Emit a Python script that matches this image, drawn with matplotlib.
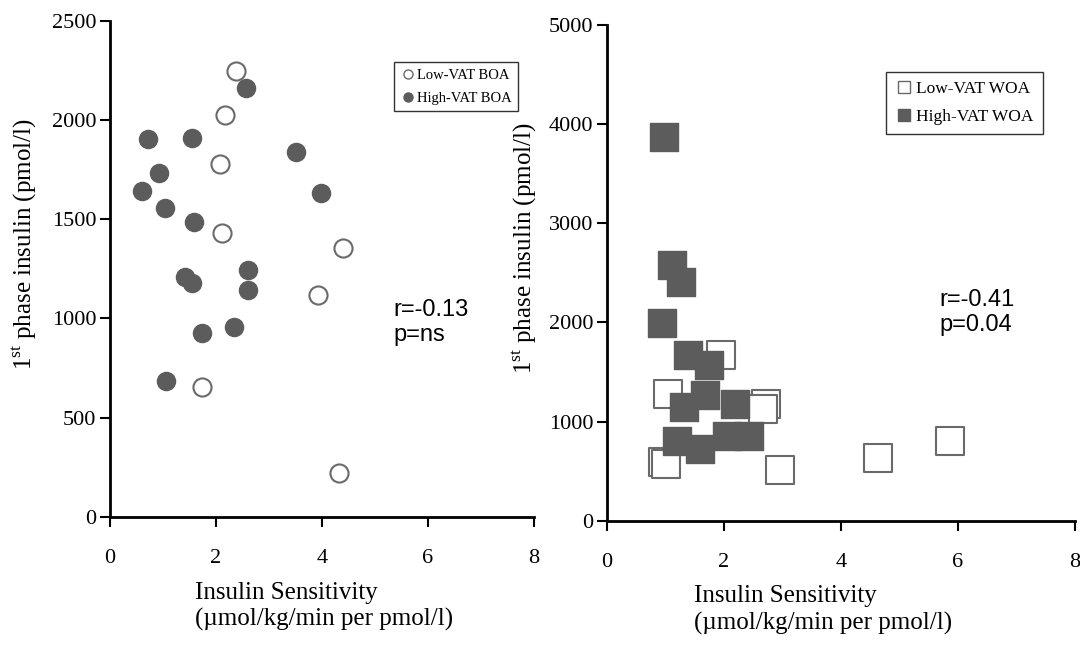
import matplotlib
matplotlib.use("Agg")
import matplotlib.pyplot as plt
from matplotlib.lines import Line2D

plt.rcParams["mathtext.fontset"] = "custom"
plt.rcParams["mathtext.rm"] = "Liberation Serif"

# %% data
# left panel: BOA
low_boa_x = [2.38, 2.17, 2.07, 2.11, 4.40, 3.93, 1.74, 4.33]
low_boa_y = [2247, 2026, 1780, 1433, 1357, 1119, 653, 224]
high_boa_x = [2.57, 0.71, 1.55, 3.50, 0.92, 0.60, 3.98, 1.04, 1.58,
              1.42, 1.54, 2.60, 2.60, 2.34, 1.74, 1.05]
high_boa_y = [2162, 1904, 1909, 1840, 1734, 1644, 1633, 1555, 1485,
              1209, 1177, 1243, 1141, 955, 927, 683]

# right panel: WOA
low_woa_x = [1.95, 1.05, 2.72, 2.66, 0.96, 1.01, 2.96, 4.64, 5.87]
low_woa_y = [1667, 1283, 1178, 1126, 595, 567, 508, 630, 801]
high_woa_x = [0.97, 1.11, 1.27, 0.94, 1.39, 1.75, 1.68, 1.31, 2.19,
              1.20, 1.59, 2.05, 2.42]
high_woa_y = [3866, 2581, 2406, 1995, 1667, 1569, 1265, 1150, 1178,
              804, 725, 857, 857]

x_ticks = [0, 2, 4, 6, 8]
left_y_ticks = [0, 500, 1000, 1500, 2000, 2500]
right_y_ticks = [0, 1000, 2000, 3000, 4000, 5000]

serif = "Liberation Serif"
sans = "Liberation Sans"
fill_col = "#5c5c5c"
edge_col = "#6a6a6a"
xlab = "Insulin Sensitivity\n(\u00b5mol/kg/min per pmol/l)"
ylab = "1$^{\\mathrm{st}}$ phase insulin (pmol/l)"

fig = plt.figure(figsize=(10.8, 6.45), dpi=100)
ax1 = fig.add_axes([110/1080, 1-517/645, 424/1080, 496.3/645])
ax2 = fig.add_axes([607/1080, 1-520.7/645, 468/1080, 495.7/645])


def style(ax, yticks):
    for s in ["top", "right"]:
        ax.spines[s].set_visible(False)
    for s in ["left", "bottom"]:
        ax.spines[s].set_linewidth(2.0)
    ax.set_xlim(0, 8)
    ax.set_ylim(0, yticks[-1])
    ax.set_xticks(x_ticks)
    ax.set_yticks(yticks)
    ax.tick_params(axis="x", direction="out", length=7, width=1.5, pad=16,
                   labelsize=16)
    ax.tick_params(axis="y", direction="out", length=7, width=1.5, pad=3,
                   labelsize=16)
    for lab in ax.get_xticklabels() + ax.get_yticklabels():
        lab.set_fontfamily(serif)
    ax.set_ylabel(ylab, fontsize=18, fontfamily=serif)


# %% left panel
ax1.scatter(low_boa_x, low_boa_y, s=170, facecolor="white", edgecolor=edge_col,
            linewidth=1.5, zorder=3)
ax1.scatter(high_boa_x, high_boa_y, s=170, facecolor=fill_col,
            edgecolor=fill_col, zorder=3)
style(ax1, left_y_ticks)
ax1.yaxis.set_label_coords(-0.167, 0.55)
ax1.text(0.2, -0.13, xlab, transform=ax1.transAxes, ha="left", va="top",
         fontsize=18, fontfamily=serif, linespacing=1.25)
ax1.text(5.35, 980, "r=-0.13\np=ns", fontsize=17, fontfamily=sans,
         ha="left", va="center", linespacing=1.2)
h1 = [Line2D([], [], marker="o", ls="", ms=6.5, mfc="white", mec=edge_col),
      Line2D([], [], marker="o", ls="", ms=6.5, mfc=fill_col, mec=fill_col)]
leg1 = ax1.legend(h1, ["Low-VAT BOA", "High-VAT BOA"],
                  loc="upper left", bbox_to_anchor=(0.67, 0.916),
                  borderaxespad=0,
                  prop={"family": serif, "size": 10.5}, frameon=True,
                  fancybox=False, edgecolor="black", handletextpad=0.1,
                  handlelength=1.0, borderpad=0.45, labelspacing=0.65)
leg1.get_frame().set_linewidth(1.0)

# %% right panel
ax2.scatter(low_woa_x, low_woa_y, s=390, marker="s", facecolor="white",
            edgecolor=edge_col, linewidth=1.5, zorder=3)
ax2.scatter(high_woa_x, high_woa_y, s=390, marker="s", facecolor=fill_col,
            edgecolor=fill_col, zorder=4)
style(ax2, right_y_ticks)
ax2.yaxis.set_label_coords(-0.145, 0.55)
ax2.text(0.186, -0.13, xlab, transform=ax2.transAxes, ha="left", va="top",
         fontsize=18, fontfamily=serif, linespacing=1.25)
ax2.text(5.68, 2100, "r=-0.41\np=0.04", fontsize=17, fontfamily=sans,
         ha="left", va="center", linespacing=1.2)
h2 = [Line2D([], [], marker="s", ls="", ms=8.5, mfc="white", mec=edge_col),
      Line2D([], [], marker="s", ls="", ms=8.5, mfc=fill_col, mec=fill_col)]
leg2 = ax2.legend(h2, ["Low-VAT WOA", "High-VAT WOA"],
                  loc="upper left", bbox_to_anchor=(0.596, 0.906),
                  borderaxespad=0,
                  prop={"family": serif, "size": 12.5}, frameon=True,
                  fancybox=False, edgecolor="black", handletextpad=0.2,
                  handlelength=1.0, borderpad=0.55, labelspacing=0.65)
leg2.get_frame().set_linewidth(1.0)

fig.savefig("out.png", dpi=100)
